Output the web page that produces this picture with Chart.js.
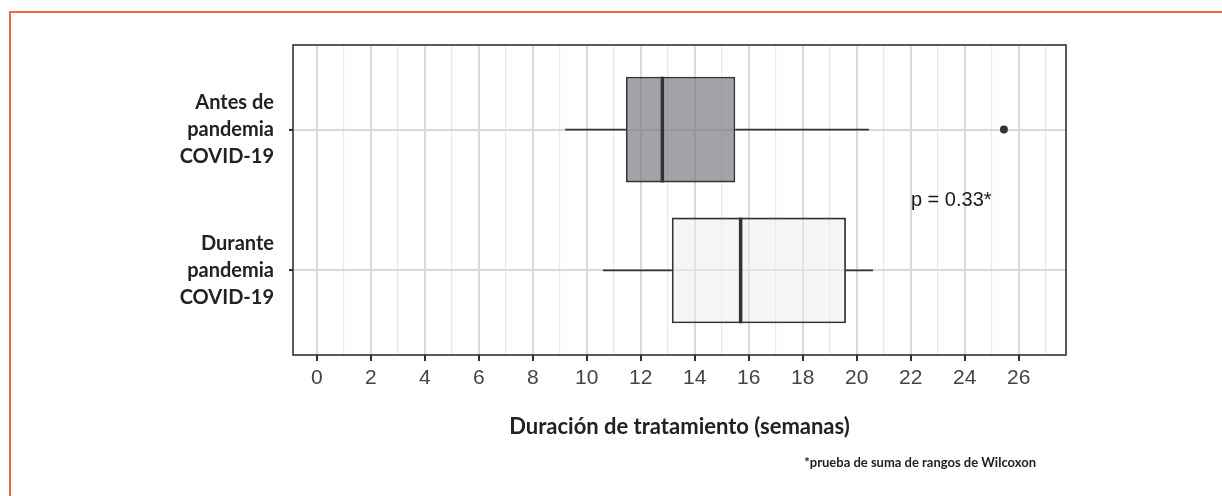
<!DOCTYPE html>
<html>
<head>
<meta charset="utf-8">
<script src="https://cdn.jsdelivr.net/npm/chart.js@4"></script>
<style>
  html, body { margin: 0; padding: 0; background: #fff; }
  #wrap { position: relative; width: 1222px; height: 496px; overflow: hidden; }
  #frame {
    position: absolute; left: 9px; top: 11px; right: -10px; bottom: -10px;
    border-top: 2px solid #ef6a3a; border-left: 2px solid #ef6a3a;
  }
  #chart { position: absolute; left: 0; top: 0; }
  #nota {
    position: absolute; right: 186px; top: 454px;
    font: bold 13px Lato, sans-serif; color: #222; white-space: nowrap;
  }
</style>
</head>
<body>
<div id="wrap">
  <div id="frame"></div>
  <canvas id="chart" width="1222" height="496"></canvas>
  <div id="nota">*prueba de suma de rangos de Wilcoxon</div>
</div>
<script>
// grupos (de arriba a abajo)
const GRUPOS = [
    ["Antes de", "pandemia", "COVID-19"],
    ["Durante", "pandemia", "COVID-19"],
];

// resumen de caja y bigotes (semanas)
const BIGOTE_MIN = [9.2, 10.6];
const Q1 = [11.45, 13.15];
const MEDIANA = [12.8, 15.7];
const Q3 = [15.5, 19.6];
const BIGOTE_MAX = [20.45, 20.6];
const ATIPICOS = [[25.45], []];

// ejes
const X_MAYORES = [0, 2, 4, 6, 8, 10, 12, 14, 16, 18, 20, 22, 24, 26];
const X_MENORES = [1, 3, 5, 7, 9, 11, 13, 15, 17, 19, 21, 23, 25, 27];

const TEXTO_P = "p = 0.33*";

const RELLENOS = ["rgba(118,119,124,0.68)", "rgba(238,238,238,0.5)"];
const OSCURO = "#333333";

const cajas = GRUPOS.map((g, i) => ({ x: [Q1[i], Q3[i]], y: i + 1 }));
const puntos = [];
ATIPICOS.forEach((lista, i) => lista.forEach(v => puntos.push({ x: v, y: i + 1 })));

const boxplotPlugin = {
    id: "boxplot",
    beforeDatasetsDraw(chart) {
        const { ctx, scales: { x, y } } = chart;
        ctx.save();
        ctx.strokeStyle = OSCURO;
        ctx.lineWidth = 1.8;
        GRUPOS.forEach((g, i) => {
            const cy = y.getPixelForValue(i + 1);
            ctx.beginPath();
            ctx.moveTo(x.getPixelForValue(BIGOTE_MIN[i]), cy);
            ctx.lineTo(x.getPixelForValue(Q1[i]), cy);
            ctx.moveTo(x.getPixelForValue(Q3[i]), cy);
            ctx.lineTo(x.getPixelForValue(BIGOTE_MAX[i]), cy);
            ctx.stroke();
        });
        ctx.restore();
    },
    afterDatasetsDraw(chart) {
        const { ctx, chartArea, scales: { x, y } } = chart;
        const barras = chart.getDatasetMeta(0).data;
        ctx.save();
        ctx.strokeStyle = OSCURO;
        ctx.lineWidth = 3.5;
        GRUPOS.forEach((g, i) => {
            const cy = y.getPixelForValue(i + 1);
            const half = barras[i].height / 2;
            const mx = x.getPixelForValue(MEDIANA[i]);
            ctx.beginPath();
            ctx.moveTo(mx, cy - half);
            ctx.lineTo(mx, cy + half);
            ctx.stroke();
        });
        // texto del p-valor
        ctx.fillStyle = "#1a1a1a";
        ctx.font = "20px 'Liberation Sans', Arial, sans-serif";
        ctx.textAlign = "center";
        ctx.textBaseline = "middle";
        ctx.fillText(TEXTO_P, x.getPixelForValue(23.5), y.getPixelForValue(1.5));
        // marco del panel
        ctx.lineWidth = 1.6;
        ctx.strokeStyle = OSCURO;
        ctx.strokeRect(chartArea.left, chartArea.top,
            chartArea.right - chartArea.left, chartArea.bottom - chartArea.top);
        ctx.restore();
    },
};

const esMayor = v => X_MAYORES.includes(v);

new Chart(document.getElementById("chart").getContext("2d"), {
    type: "bar",
    data: {
        datasets: [
            {
                type: "bar",
                data: cajas,
                backgroundColor: RELLENOS,
                borderColor: OSCURO,
                borderWidth: 1.8,
                borderSkipped: false,
                categoryPercentage: 0.75,
                barPercentage: 1,
                grouped: false,
            },
            {
                type: "scatter",
                data: puntos,
                pointRadius: 4,
                pointBackgroundColor: OSCURO,
                pointBorderWidth: 0,
            },
        ],
    },
    options: {
        indexAxis: "y",
        responsive: false,
        animation: false,
        events: [],
        layout: { padding: { left: 0, top: 45, right: 156, bottom: 0 } },
        plugins: {
            legend: { display: false },
            tooltip: { enabled: false },
        },
        scales: {
            x: {
                type: "linear",
                min: -0.88,
                max: 27.75,
                offset: false,
                afterBuildTicks: scale => {
                    scale.ticks = X_MAYORES.concat(X_MENORES)
                        .sort((a, b) => a - b)
                        .map(v => ({ value: v }));
                },
                afterFit: scale => {
                    scale.height = 141;
                    scale.paddingLeft = 0;
                    scale.paddingRight = 0;
                },
                ticks: {
                    autoSkip: false,
                    maxRotation: 0,
                    padding: 5,
                    color: "#444",
                    font: { family: "'Liberation Sans', Arial, sans-serif", size: 21 },
                    callback: v => (esMayor(v) ? String(v) : ""),
                },
                grid: {
                    offset: false,
                    color: c => (c.tick && esMayor(c.tick.value) ? "#d9d9d9" : "#e9e9e9"),
                    lineWidth: c => (c.tick && esMayor(c.tick.value) ? 2 : 1.2),
                    tickColor: c => (c.tick && esMayor(c.tick.value) ? OSCURO : "rgba(0,0,0,0)"),
                    tickWidth: 2,
                    tickLength: 6,
                },
                border: { display: false },
                title: {
                    display: true,
                    text: "Duración de tratamiento (semanas)",
                    color: "#222",
                    font: { family: "Lato, sans-serif", size: 22, weight: "bold" },
                    padding: { top: 0, bottom: 56 },
                },
            },
            y: {
                type: "linear",
                min: 0.4,
                max: 2.6,
                reverse: true,
                offset: false,
                afterBuildTicks: scale => {
                    scale.ticks = GRUPOS.map((g, i) => ({ value: i + 1 }));
                },
                afterFit: scale => {
                    scale.width = 293;
                    scale.paddingTop = 0;
                    scale.paddingBottom = 0;
                },
                ticks: {
                    autoSkip: false,
                    padding: 15,
                    color: "#222",
                    font: { family: "Lato, sans-serif", size: 20, weight: "bold", lineHeight: 1.33 },
                    callback: v => GRUPOS[v - 1] || "",
                },
                grid: {
                    offset: false,
                    color: "#d9d9d9",
                    lineWidth: 2,
                    tickColor: OSCURO,
                    tickWidth: 2,
                    tickLength: 4,
                },
                border: { display: false },
            },
        },
    },
    plugins: [boxplotPlugin],
});
</script>
</body>
</html>
